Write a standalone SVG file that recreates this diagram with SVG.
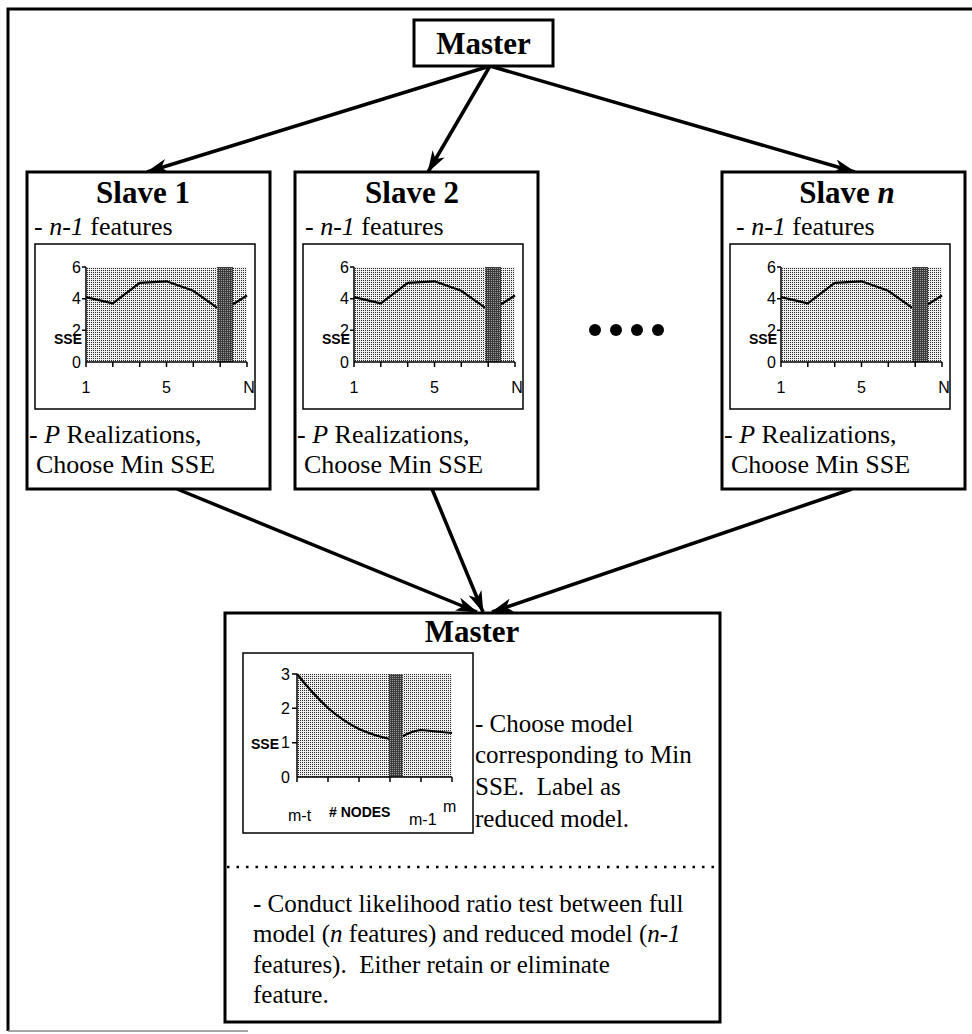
<svg xmlns="http://www.w3.org/2000/svg" width="972" height="1034" viewBox="0 0 972 1034">
  <style>
    .frame { fill: none; stroke: #000; stroke-width: 3; }
    .box { fill: #fff; stroke: #000; stroke-width: 3; }
    .cbox { fill: #fff; stroke: #000; stroke-width: 1.5; }
    .title { font-family: "Liberation Serif", "Times New Roman", serif; font-weight: bold; font-size: 31px; fill: #000; }
    .body { font-family: "Liberation Serif", "Times New Roman", serif; font-size: 26px; fill: #000; white-space: pre; }
    .body2 { font-family: "Liberation Serif", "Times New Roman", serif; font-size: 25px; fill: #000; white-space: pre; }
    .tick { font-family: "Liberation Sans", Arial, sans-serif; font-size: 16px; fill: #000; }
    .axl { font-family: "Liberation Sans", Arial, sans-serif; font-size: 14px; font-weight: bold; fill: #000; }
    .axis { fill: none; stroke: #000; stroke-width: 1.5; }
    .curve { fill: none; stroke: #000; stroke-width: 2.2; stroke-linejoin: round; }
    .conn { fill: none; stroke: #000; stroke-width: 3.5; }
  </style>
  <defs>
    <pattern id="stipple" width="2" height="2" patternUnits="userSpaceOnUse">
      <rect width="2" height="2" fill="#efefef"/>
      <rect width="1" height="1" fill="#2a2a2a"/>
    </pattern>
    <pattern id="darkband" width="2" height="2" patternUnits="userSpaceOnUse">
      <rect width="2" height="2" fill="#3a3a3a"/>
      <rect width="1" height="1" fill="#a0a0a0"/>
    </pattern>
    <marker id="head" viewBox="0 0 22 14" refX="21" refY="7" markerWidth="22" markerHeight="14" markerUnits="userSpaceOnUse" orient="auto">
      <path d="M0,0 L22,7 L0,14 L6,7 Z" fill="#000"/>
    </marker>
    <!-- SSE vs. feature-index chart used in every slave box (local coords, origin at slave box corner) -->
    <g id="sseChart">
      <rect class="cbox" x="8" y="72" width="220" height="165"/>
      <rect x="59" y="95" width="161" height="95" fill="url(#stipple)"/>
      <polyline class="curve" points="59,125.1 85.8,131.4 112.7,110.8 139.5,109.3 166.3,118.8 193.2,137.8 206,132.2 220,123.5"/>
      <rect x="190" y="95" width="16" height="95" fill="url(#darkband)"/>
      <path class="axis" d="M59,95 V190 H220 M55,95 H59 M55,126.7 H59 M55,158.3 H59 M59,190 V195 M85.8,190 V195 M112.7,190 V195 M139.5,190 V195 M166.3,190 V195 M193.2,190 V195 M220,190 V195"/>
      <text class="tick" x="54" y="101" text-anchor="end">6</text>
      <text class="tick" x="54" y="132" text-anchor="end">4</text>
      <text class="tick" x="54" y="164" text-anchor="end">2</text>
      <text class="tick" x="54" y="196" text-anchor="end">0</text>
      <text class="axl" x="55" y="172" text-anchor="end">SSE</text>
      <text class="tick" x="59" y="221" text-anchor="middle">1</text>
      <text class="tick" x="139.5" y="221" text-anchor="middle">5</text>
      <text class="tick" x="222" y="221" text-anchor="middle">N</text>
    </g>
  </defs>

  <rect width="972" height="1034" fill="#fff"/>

  <!-- outer frame -->
  <path class="frame" d="M8,1031 V9 H972"/>
  <line x1="8" y1="1031" x2="248" y2="1031" stroke="#888" stroke-width="1.5"/>

  <!-- connectors -->
  <g id="connectors">
    <line class="conn" x1="490" y1="66" x2="147" y2="172" marker-end="url(#head)"/>
    <line class="conn" x1="490" y1="66" x2="428" y2="172" marker-end="url(#head)"/>
    <line class="conn" x1="490" y1="66" x2="855" y2="172" marker-end="url(#head)"/>
    <line class="conn" x1="177" y1="489" x2="477" y2="612" marker-end="url(#head)"/>
    <line class="conn" x1="432" y1="489" x2="483" y2="612" marker-end="url(#head)"/>
    <line class="conn" x1="852" y1="489" x2="492" y2="612" marker-end="url(#head)"/>
  </g>

  <!-- top master -->
  <g id="master-top">
    <rect class="box" x="414" y="20" width="139" height="46"/>
    <text class="title" x="483.5" y="54" text-anchor="middle">Master</text>
  </g>

  <!-- slave 1 -->
  <g id="slave-1" transform="translate(27,172)">
    <rect class="box" x="0" y="0" width="243" height="317"/>
    <text class="title" x="116" y="31" text-anchor="middle">Slave 1</text>
    <text class="body" x="7" y="63">- <tspan font-style="italic">n-1</tspan> features</text>
    <use href="#sseChart"/>
    <text class="body" x="2" y="271">- <tspan font-style="italic">P</tspan> Realizations,</text>
    <text class="body" x="9" y="301">Choose Min SSE</text>
  </g>

  <!-- slave 2 -->
  <g id="slave-2" transform="translate(295,172)">
    <rect class="box" x="0" y="0" width="243" height="317"/>
    <text class="title" x="117" y="31" text-anchor="middle">Slave 2</text>
    <text class="body" x="10" y="63">- <tspan font-style="italic">n-1</tspan> features</text>
    <use href="#sseChart"/>
    <text class="body" x="2" y="271">- <tspan font-style="italic">P</tspan> Realizations,</text>
    <text class="body" x="9" y="301">Choose Min SSE</text>
  </g>

  <!-- ellipsis between slaves -->
  <g id="ellipsis" fill="#000">
    <circle cx="595" cy="330" r="6"/>
    <circle cx="616" cy="330" r="6"/>
    <circle cx="637" cy="330" r="6"/>
    <circle cx="658" cy="330" r="6"/>
  </g>

  <!-- slave n -->
  <g id="slave-n" transform="translate(722,172)">
    <rect class="box" x="0" y="0" width="243" height="317"/>
    <text class="title" x="125" y="31" text-anchor="middle">Slave <tspan font-style="italic">n</tspan></text>
    <text class="body" x="14" y="63">- <tspan font-style="italic">n-1</tspan> features</text>
    <use href="#sseChart"/>
    <text class="body" x="2" y="271">- <tspan font-style="italic">P</tspan> Realizations,</text>
    <text class="body" x="9" y="301">Choose Min SSE</text>
  </g>

  <!-- bottom master -->
  <g id="master-bottom">
    <rect class="box" x="225" y="613" width="495" height="409"/>
    <text class="title" x="472" y="642" text-anchor="middle">Master</text>
    <!-- SSE vs. number of nodes -->
    <rect class="cbox" x="243" y="653" width="230" height="180"/>
    <rect x="297" y="674" width="155" height="103" fill="url(#stipple)"/>
    <path class="curve" d="M297,674 Q312,693 328,708 Q343,721 359,729 Q375,736 390,739 L403,736 Q412,731 421,730 L452,733"/>
    <rect x="389" y="674" width="14" height="103" fill="url(#darkband)"/>
    <path class="axis" d="M297,674 V777 H452 M292,674 H297 M292,708.3 H297 M292,742.7 H297 M297,777 V782 M328,777 V782 M359,777 V782 M390,777 V782 M421,777 V782 M452,777 V782"/>
    <text class="tick" x="290" y="680" text-anchor="end">3</text>
    <text class="tick" x="290" y="714" text-anchor="end">2</text>
    <text class="tick" x="290" y="748" text-anchor="end">1</text>
    <text class="tick" x="290" y="783" text-anchor="end">0</text>
    <text class="axl" x="279" y="749" text-anchor="end">SSE</text>
    <text class="tick" x="288" y="821" font-size="15">m-t</text>
    <text class="axl" x="329" y="817" xml:space="preserve"># NODES</text>
    <text class="tick" x="409" y="825" font-size="15">m-1</text>
    <text class="tick" x="443" y="812" font-size="15">m</text>

    <text class="body2" x="475" y="732">- Choose model</text>
    <text class="body2" x="475" y="763">corresponding to Min</text>
    <text class="body2" x="475" y="795" xml:space="preserve">SSE.  Label as</text>
    <text class="body2" x="475" y="827">reduced model.</text>

    <line x1="227" y1="867" x2="720" y2="867" stroke="#000" stroke-width="2.5" stroke-dasharray="2.5 7"/>

    <text class="body2" x="253" y="912">- Conduct likelihood ratio test between full</text>
    <text class="body2" x="253" y="942">model (<tspan font-style="italic">n</tspan> features) and reduced model (<tspan font-style="italic">n-1</tspan></text>
    <text class="body2" x="253" y="973" xml:space="preserve">features).  Either retain or eliminate</text>
    <text class="body2" x="253" y="1003">feature.</text>
  </g>
</svg>
